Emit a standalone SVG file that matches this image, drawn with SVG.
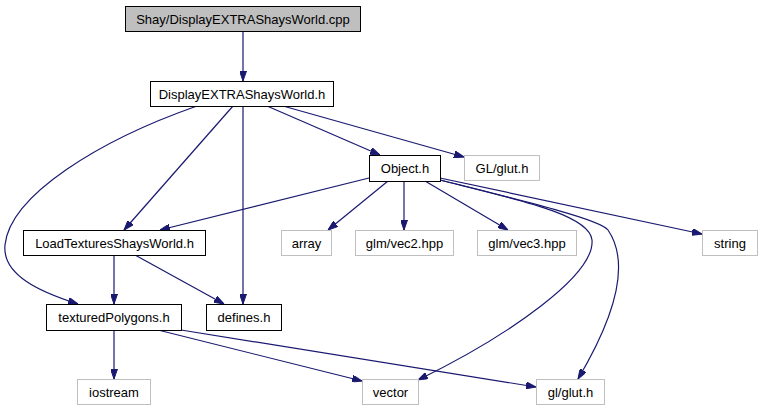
<svg xmlns="http://www.w3.org/2000/svg" width="763" height="411" viewBox="0 0 763 411">
<style>
.n rect{fill:#fff;stroke:#000;stroke-width:1}
.n.ext rect{stroke:#bfbfbf}
.n.root rect{fill:#bfbfbf}
.n text{font-family:"Liberation Sans",Arial,sans-serif;font-size:13px;fill:#000;text-anchor:middle}
.e path{fill:none;stroke:#191970;stroke-width:1.2;marker-end:url(#a)}
</style>
<defs>
<marker id="a" viewBox="0 0 10 7" refX="10" refY="3.5" markerWidth="10" markerHeight="7" orient="auto" markerUnits="userSpaceOnUse">
<path d="M0,0 L10,3.5 L0,7 z" fill="#191970" stroke="#191970"/>
</marker>
</defs>
<rect width="763" height="411" fill="#fff"/>
<g class="e" id="edges">
<path d="M243,31 L243,81"/>
<path d="M197,106 C100,140 10,195 5,245 C2,275 40,292 78,304"/>
<path d="M233,106 L124,230"/>
<path d="M243,106 L243,304"/>
<path d="M267,106 L380,155"/>
<path d="M283,106 L464,157"/>
<path d="M369,178 L160,230"/>
<path d="M388,181 L328,230"/>
<path d="M404,181 L404,230"/>
<path d="M425,181 L508,230"/>
<path d="M440,178 L702,234"/>
<path d="M440,180 C520,200 590,215 592,240 C595,275 510,335 418,380"/>
<path d="M440,180 C540,205 600,220 608,230 C625,255 625,300 578,379"/>
<path d="M114,255 L114,304"/>
<path d="M135,255 L224,304"/>
<path d="M114,330 L114,379"/>
<path d="M158,330 L362,381"/>
<path d="M181,330 L536,387"/>
</g>
<g class="n root" id="node-cpp"><rect x="125.5" y="6.5" width="235" height="25"/><text x="243" y="23.5">Shay/DisplayEXTRAShaysWorld.cpp</text></g>
<g class="n" id="node-displayh"><rect x="150.5" y="81.5" width="183" height="25"/><text x="242" y="98.5">DisplayEXTRAShaysWorld.h</text></g>
<g class="n" id="node-object"><rect x="369.5" y="155.5" width="71" height="26"/><text x="405" y="173">Object.h</text></g>
<g class="n ext" id="node-glglut"><rect x="464.5" y="155.5" width="75" height="25"/><text x="502" y="172.5">GL/glut.h</text></g>
<g class="n" id="node-loadtex"><rect x="23.5" y="230.5" width="182" height="25"/><text x="114.5" y="247.5">LoadTexturesShaysWorld.h</text></g>
<g class="n ext" id="node-array"><rect x="281.5" y="230.5" width="50" height="25"/><text x="306.5" y="247.5">array</text></g>
<g class="n ext" id="node-vec2"><rect x="355.5" y="230.5" width="98" height="25"/><text x="404.5" y="247.5">glm/vec2.hpp</text></g>
<g class="n ext" id="node-vec3"><rect x="477.5" y="230.5" width="99" height="25"/><text x="527" y="247.5">glm/vec3.hpp</text></g>
<g class="n ext" id="node-string"><rect x="702.5" y="230.5" width="55" height="25"/><text x="730" y="247.5">string</text></g>
<g class="n" id="node-textured"><rect x="46.5" y="304.5" width="135" height="26"/><text x="114" y="322">texturedPolygons.h</text></g>
<g class="n" id="node-defines"><rect x="206.5" y="304.5" width="75" height="26"/><text x="244" y="322">defines.h</text></g>
<g class="n ext" id="node-iostream"><rect x="77.5" y="379.5" width="73" height="25"/><text x="114" y="396.5">iostream</text></g>
<g class="n ext" id="node-vector"><rect x="362.5" y="379.5" width="56" height="25"/><text x="390.5" y="396.5">vector</text></g>
<g class="n ext" id="node-glut2"><rect x="536.5" y="379.5" width="68" height="25"/><text x="570.5" y="396.5">gl/glut.h</text></g>
</svg>
